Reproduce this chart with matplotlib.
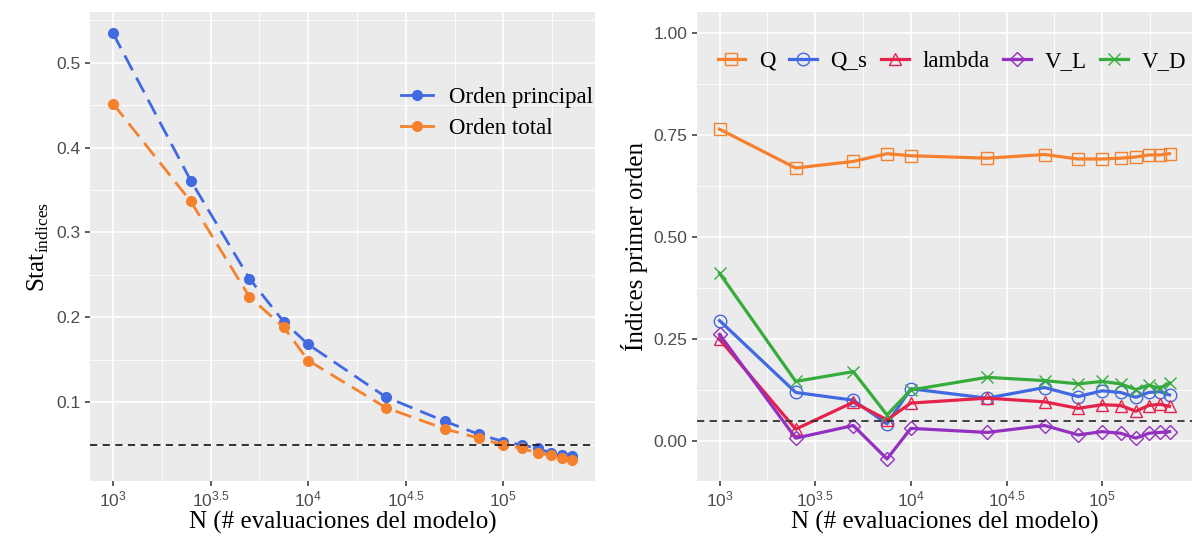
import numpy as np
import matplotlib
matplotlib.use("Agg")
import matplotlib.pyplot as plt
from matplotlib.ticker import FixedLocator

plt.rcParams['mathtext.fontset'] = 'custom'
plt.rcParams['mathtext.rm'] = 'Liberation Serif'
plt.rcParams['mathtext.sf'] = 'Liberation Sans'

# datos
n_eval = [1000, 2500, 5000, 7500, 10000, 25000, 50000, 75000, 100000,
          125000, 150000, 175000, 200000, 225000]

orden_principal = [0.5345, 0.361, 0.2455, 0.1945, 0.168, 0.106, 0.0775, 0.062,
                   0.0535, 0.0495, 0.0455, 0.040, 0.038, 0.037]
orden_total = [0.4515, 0.3365, 0.224, 0.188, 0.149, 0.0935, 0.0685, 0.0575,
               0.0495, 0.0455, 0.040, 0.0375, 0.034, 0.032]

idx_Q = [0.765, 0.670, 0.686, 0.705, 0.700, 0.694, 0.703, 0.692, 0.692,
         0.694, 0.697, 0.702, 0.702, 0.705]
idx_Qs = [0.296, 0.120, 0.101, 0.043, 0.129, 0.106, 0.132, 0.110, 0.124,
          0.120, 0.108, 0.120, 0.122, 0.114]
idx_lambda = [0.250, 0.030, 0.096, 0.053, 0.094, 0.106, 0.097, 0.081, 0.090,
              0.088, 0.074, 0.088, 0.091, 0.086]
idx_VL = [0.262, 0.008, 0.039, -0.043, 0.032, 0.022, 0.039, 0.016, 0.024,
          0.020, 0.008, 0.020, 0.022, 0.024]
idx_VD = [0.412, 0.147, 0.171, 0.065, 0.126, 0.157, 0.149, 0.141, 0.147,
          0.141, 0.127, 0.138, 0.130, 0.143]

umbral = 0.05

xticks_exp = [3, 3.5, 4, 4.5, 5]
xtick_labels = [r'$\mathsf{10^{3}}$', r'$\mathsf{10^{3.5}}$', r'$\mathsf{10^{4}}$',
                r'$\mathsf{10^{4.5}}$', r'$\mathsf{10^{5}}$']

azul = '#4169E1'
naranja = '#F5812E'
rojo = '#E5234A'
morado = '#9430C0'
verde = '#36AC3C'


def estilo_gg(ax, yticks, yminor):
    ax.set_facecolor('#EBEBEB')
    for s in ax.spines.values():
        s.set_visible(False)
    ax.set_xscale('log')
    ax.xaxis.set_major_locator(FixedLocator([10 ** e for e in xticks_exp]))
    ax.xaxis.set_minor_locator(FixedLocator([10 ** (e + 0.25) for e in [2.5] + xticks_exp]))
    ax.set_xticklabels(xtick_labels)
    ax.yaxis.set_major_locator(FixedLocator(yticks))
    ax.yaxis.set_minor_locator(FixedLocator(yminor))
    ax.grid(which='major', color='white', linewidth=1.2)
    ax.grid(which='minor', color='white', linewidth=0.6)
    ax.set_axisbelow(True)
    ax.tick_params(which='major', length=3.5, color='#333333', labelcolor='#4D4D4D',
                   labelsize=12.5, width=1.1)
    ax.tick_params(which='minor', length=0)
    for lab in ax.get_yticklabels():
        lab.set_family('Liberation Sans')
    ax.set_xlabel('N (# evaluaciones del modelo)', family='Liberation Serif',
                  fontsize=18, labelpad=0)
    ax.set_xlim(10 ** 2.882, 10 ** 5.47)


fig = plt.figure(figsize=(11.96, 5.44), dpi=100)

# panel izquierdo
ax1 = fig.add_axes([0.0753, 0.1158, 0.4222, 0.862])
ax1.plot(n_eval, orden_principal, color=azul, linestyle=(0, (6, 3)), linewidth=2,
         marker='o', markersize=7, label='Orden principal')
ax1.plot(n_eval, orden_total, color=naranja, linestyle=(0, (6, 3)), linewidth=2,
         marker='o', markersize=7, label='Orden total')
ax1.axhline(umbral, color='#222222', linestyle=(0, (4, 3)), linewidth=1.3)
estilo_gg(ax1, [0.1, 0.2, 0.3, 0.4, 0.5], [0.05, 0.15, 0.25, 0.35, 0.45, 0.55])
ax1.set_ylim(0.007, 0.5596)
ax1.set_yticklabels(['0.1', '0.2', '0.3', '0.4', '0.5'])
ax1.set_ylabel(r'Stat$_{\mathrm{índices}}$', family='Liberation Serif', fontsize=18,
               labelpad=4)
leg1 = ax1.legend(loc='upper left', bbox_to_anchor=(0.575, 0.885), frameon=False,
                  prop={'family': 'Liberation Serif', 'size': 16.5},
                  handlelength=1.4, handletextpad=0.7, labelspacing=0.45)
for h in leg1.get_lines():
    h.set_linestyle('-')

# panel derecho
ax2 = fig.add_axes([0.5828, 0.1158, 0.4139, 0.862])
series = [
    ('Q', idx_Q, naranja, 's'),
    ('Q_s', idx_Qs, azul, 'o'),
    ('lambda', idx_lambda, rojo, '^'),
    ('V_L', idx_VL, morado, 'D'),
    ('V_D', idx_VD, verde, 'x'),
]
for nombre, vals, col, mk in series:
    ax2.plot(n_eval, vals, color=col, linewidth=2.3, marker=mk,
             markersize=9 if mk != 'D' else 7.5, markerfacecolor='none',
             markeredgewidth=1.0, label=nombre)
ax2.axhline(umbral, color='#333333', linestyle=(0, (4, 3)), linewidth=1.3)
estilo_gg(ax2, [0.0, 0.25, 0.5, 0.75, 1.0], [0.125, 0.375, 0.625, 0.875])
ax2.set_ylim(-0.097, 1.052)
ax2.set_yticklabels(['0.00', '0.25', '0.50', '0.75', '1.00'])
ax2.set_ylabel('Índices primer orden', family='Liberation Serif', fontsize=18, labelpad=4)
ax2.legend(loc='upper center', bbox_to_anchor=(0.515, 0.952), ncol=5, frameon=False,
           prop={'family': 'Liberation Serif', 'size': 16.5},
           handlelength=1.2, handletextpad=0.6, columnspacing=0.6, borderpad=0.2)

fig.savefig('out.png', dpi=100)
